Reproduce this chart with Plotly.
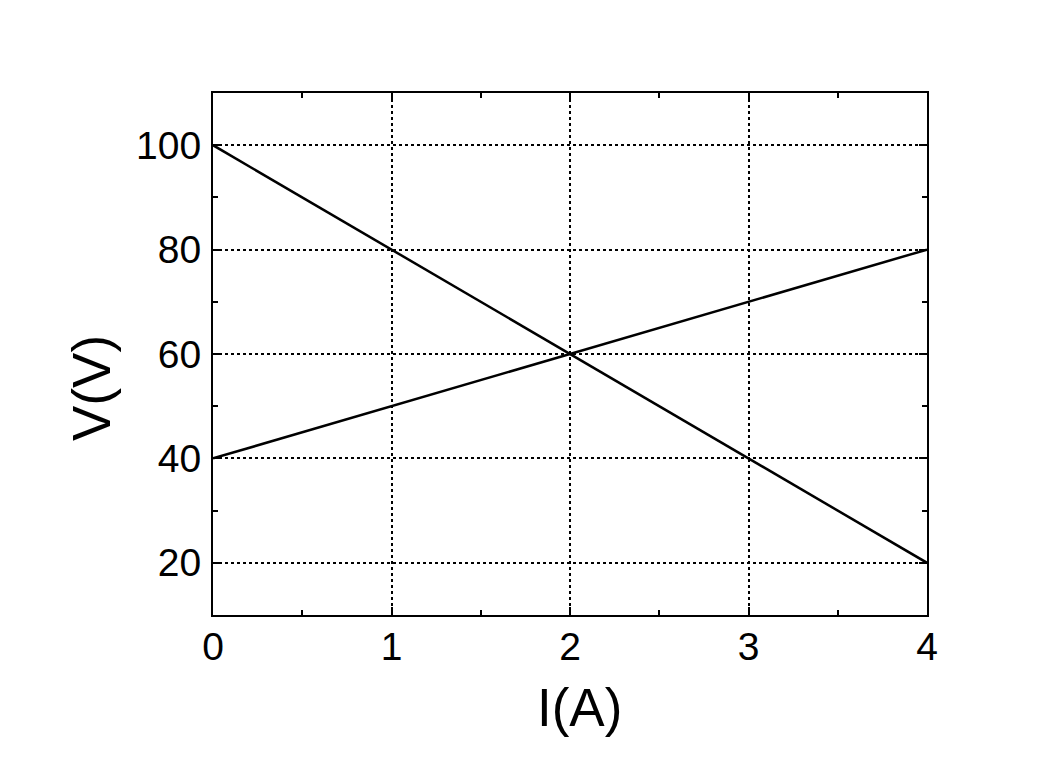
import plotly.graph_objects as go

current = [0, 4]
line_falling = [100, 20]
line_rising = [40, 80]
x_ticks = [0, 1, 2, 3, 4]
y_ticks = [20, 40, 60, 80, 100]
x_title = "I(A)"
y_title = "V(V)"

FONT = "Liberation Sans, Arial"

fig = go.Figure()
for ys in (line_falling, line_rising):
    fig.add_trace(go.Scatter(x=current, y=ys, mode="lines",
                             line=dict(color="black", width=2.5), showlegend=False,
                             cliponaxis=False))

axis_common = dict(
    showline=True, linecolor="black", linewidth=2, mirror="ticks",
    ticks="inside", ticklen=8, tickwidth=2, tickcolor="black",
    showgrid=True, gridcolor="black", griddash="dot", gridwidth=2,
    zeroline=False,
    tickfont=dict(family=FONT, size=39, color="black"),
)

fig.update_xaxes(range=[0, 4], tickvals=x_ticks, ticklabelstandoff=-4,
                 minor=dict(ticks="inside", dtick=0.5, ticklen=5, tickwidth=2,
                            tickcolor="black", showgrid=False),
                 **axis_common)
fig.update_yaxes(range=[10, 110], tickvals=y_ticks, ticklabelstandoff=2,
                 minor=dict(ticks="inside", dtick=10, tick0=0, ticklen=5, tickwidth=2,
                            tickcolor="black", showgrid=False),
                 **axis_common)

fig.add_annotation(text=x_title, xref="paper", yref="paper", x=0.514, y=-0.178,
                   xanchor="center", yanchor="middle", showarrow=False,
                   font=dict(family=FONT, size=53, color="black"))
fig.add_annotation(text=y_title, xref="paper", yref="paper", x=-0.1695, y=0.435,
                   xanchor="center", yanchor="middle", showarrow=False, textangle=-90,
                   font=dict(family=FONT, size=53, color="black"))

fig.update_layout(
    width=1059, height=784,
    margin=dict(l=205, r=140, t=85, b=177),
    plot_bgcolor="white", paper_bgcolor="white",
)

fig.write_html("out.html")
